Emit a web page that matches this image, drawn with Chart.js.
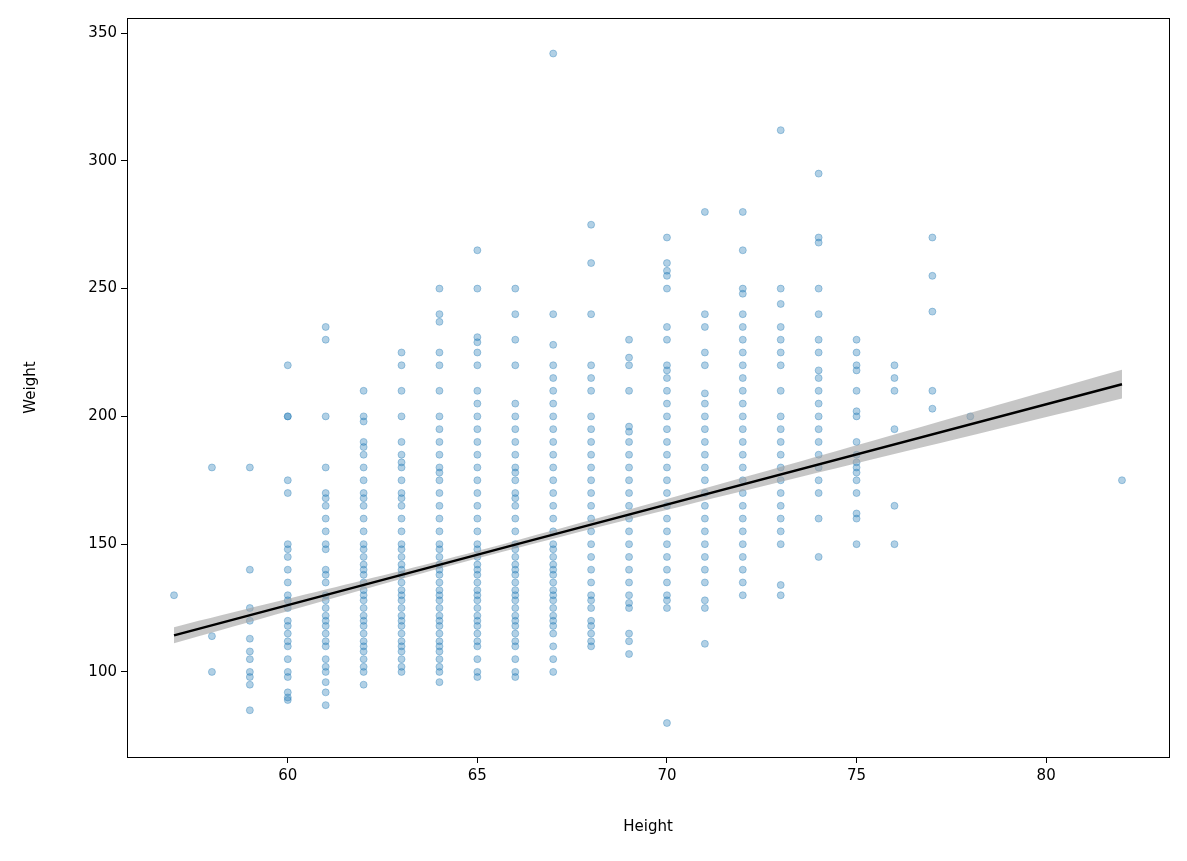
<!DOCTYPE html>
<html><head><meta charset="utf-8">
<script src="https://cdn.jsdelivr.net/npm/chart.js@4"></script>
<style>html,body{margin:0;padding:0;background:#fff}#w{width:1187px;height:861px}</style>
</head><body><div id="w"><canvas id="c"></canvas></div>
<script>
const heights=[57,58,59,60,61,62,63,64,65,66,67,68,69,70,71,72,73,74,75,76,77,78,82];
const weights=[
[130],
[180,114,100],
[180,140,125,120,113,108,105,100,98,95,85],
[220,200,200,175,170,150,148,145,140,135,130,128,125,120,118,115,112,110,105,100,98,92,90,89],
[235,230,200,180,170,168,165,160,155,150,148,140,138,135,130,128,125,122,120,118,115,112,110,105,102,100,96,92,87],
[210,200,198,190,188,185,180,175,170,168,165,160,155,150,148,145,142,140,138,135,132,130,128,125,122,120,118,115,112,110,108,105,102,100,95],
[225,220,210,200,190,185,182,180,175,170,168,165,160,155,150,148,145,142,140,138,135,132,130,128,125,122,120,118,115,112,110,108,105,102,100],
[250,240,237,225,220,210,200,195,190,185,180,178,175,170,165,160,155,150,148,145,142,140,138,135,132,130,128,125,122,120,118,115,112,110,108,105,102,100,96],
[265,250,231,229,225,220,210,205,200,195,190,185,180,175,170,165,160,155,150,148,145,142,140,138,135,132,130,128,125,122,120,118,115,112,110,105,100,98],
[250,240,230,220,205,200,195,190,185,180,178,175,170,168,165,160,155,150,148,145,142,140,138,135,132,130,128,125,122,120,118,115,112,110,105,100,98],
[342,240,228,220,215,210,205,200,195,190,185,180,175,170,165,160,155,150,148,145,142,140,138,135,132,130,128,125,122,120,118,115,110,105,100],
[275,260,240,220,215,210,200,195,190,185,180,175,170,165,160,155,150,145,140,135,130,128,125,120,118,115,112,110],
[230,223,220,210,196,194,190,185,180,175,170,165,160,155,150,145,140,135,130,127,125,115,112,107],
[270,260,257,255,250,235,230,220,218,215,210,205,200,195,190,185,180,175,170,165,160,155,150,145,140,135,130,128,125,80],
[280,240,235,225,220,209,205,200,195,190,185,180,175,170,165,160,155,150,145,140,135,128,125,111],
[280,265,250,248,240,235,230,225,220,215,210,205,200,195,190,185,180,175,170,165,160,155,150,145,140,135,130],
[312,250,244,235,230,225,220,210,200,195,190,185,180,175,170,165,160,155,150,134,130],
[295,270,268,250,240,230,225,218,215,210,205,200,195,190,185,180,175,170,160,145],
[230,225,220,218,210,202,200,190,185,182,180,178,175,170,162,160,150],
[220,215,210,195,165,150],
[270,255,241,210,203],
[200],
[175]];
const fitX=[57,66,82];
const fitY=[114.3,149.8,212.6];
const bandHi=[117.5,151.3,218.2];
const bandLo=[111.2,148.3,207.0];

const pts=[];
heights.forEach((h,i)=>weights[i].forEach(w=>pts.push({x:h,y:w})));
const xy=(xs,ys)=>xs.map((x,i)=>({x:x,y:ys[i]}));
const boxPlugin={id:'box',afterDraw(ch){const a=ch.chartArea,c=ch.ctx;c.save();c.strokeStyle='#000';c.lineWidth=1;c.strokeRect(a.left+0.5,a.top+0.5,a.right-a.left,a.bottom-a.top);c.restore();}};
const font={family:'"DejaVu Sans"',size:15};
new Chart(document.getElementById('c'),{
type:'scatter',
data:{datasets:[
{data:pts,backgroundColor:'rgba(31,119,180,0.35)',borderColor:'rgba(31,119,180,0.35)',borderWidth:1,pointRadius:3.5,order:3},
{type:'line',data:xy(fitX,bandHi),borderWidth:0,pointRadius:0,fill:'+1',backgroundColor:'rgba(160,160,160,0.6)',tension:0.4,order:2},
{type:'line',data:xy(fitX,bandLo),borderWidth:0,pointRadius:0,fill:false,tension:0.4,order:2},
{type:'line',data:xy(fitX,fitY),borderColor:'#000',borderWidth:2.5,pointRadius:0,fill:false,order:1}
]},
options:{responsive:true,maintainAspectRatio:false,animation:false,
layout:{padding:{top:18,right:18,left:0,bottom:0}},
plugins:{legend:{display:false},tooltip:{enabled:false}},
scales:{
x:{type:'linear',min:55.76,max:83.24,
afterBuildTicks(s){s.ticks=[60,65,70,75,80].map(v=>({value:v}));},
afterFit(s){s.height=104;},
grid:{drawOnChartArea:false,color:'#000',tickLength:6},border:{display:false},
ticks:{color:'#000',font:font,padding:4},
title:{display:true,text:'Height',color:'#000',font:font,padding:{top:6,bottom:25}}},
y:{type:'linear',min:66.7,max:355.9,
afterBuildTicks(s){s.ticks=[100,150,200,250,300,350].map(v=>({value:v}));},
afterFit(s){s.width=127;},
grid:{drawOnChartArea:false,color:'#000',tickLength:6},border:{display:false},
ticks:{color:'#000',font:font,padding:4},
title:{display:true,text:'Weight',color:'#000',font:font,padding:{top:22,bottom:10}}}
}},
plugins:[boxPlugin]});
</script></body></html>
